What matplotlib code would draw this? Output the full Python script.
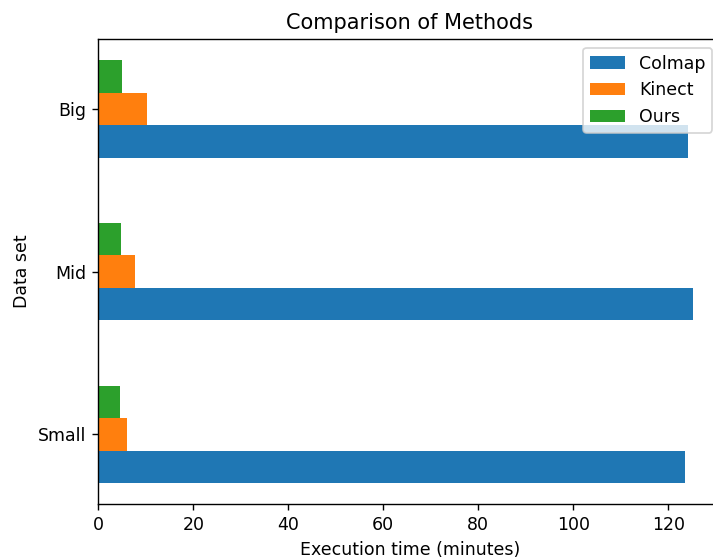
import matplotlib
matplotlib.use("Agg")
import matplotlib.pyplot as plt
import numpy as np

datasets = ["Small", "Mid", "Big"]
colmap = [123.6, 125.2, 124.2]
kinect = [6.1, 7.7, 10.2]
ours = [4.6, 4.8, 5.0]
series_names = ["Colmap", "Kinect", "Ours"]
colors = ["#1f77b4", "#ff7f0e", "#2ca02c"]

DPI = 125
W, H = 713, 559
fig = plt.figure(figsize=(W / DPI, H / DPI), dpi=DPI)
left, right, top, bottom = 98.3, 721.0, 39.0, 504.3
ax = fig.add_axes([left / W, (H - bottom) / H, (right - left) / W, (bottom - top) / H])

y = np.arange(len(datasets))
bw = 0.2
for i, (vals, name, c) in enumerate(zip([colmap, kinect, ours], series_names, colors)):
    ax.barh(y + (i - 1) * bw, vals, height=bw, color=c, label=name)

ax.set_yticks(y)
ax.set_yticklabels(datasets)
ax.set_ylim(-0.43, 2.43)
ax.set_xlim(0, (right - left) / ((668.3 - 98.3) / 120))
ax.set_xticks([0, 20, 40, 60, 80, 100, 120])
ax.set_xlabel("Execution time (minutes)")
ax.set_ylabel("Data set")
ax.set_title("Comparison of Methods")
ax.legend(loc="upper right")

fig.savefig("out.png", dpi=DPI)
